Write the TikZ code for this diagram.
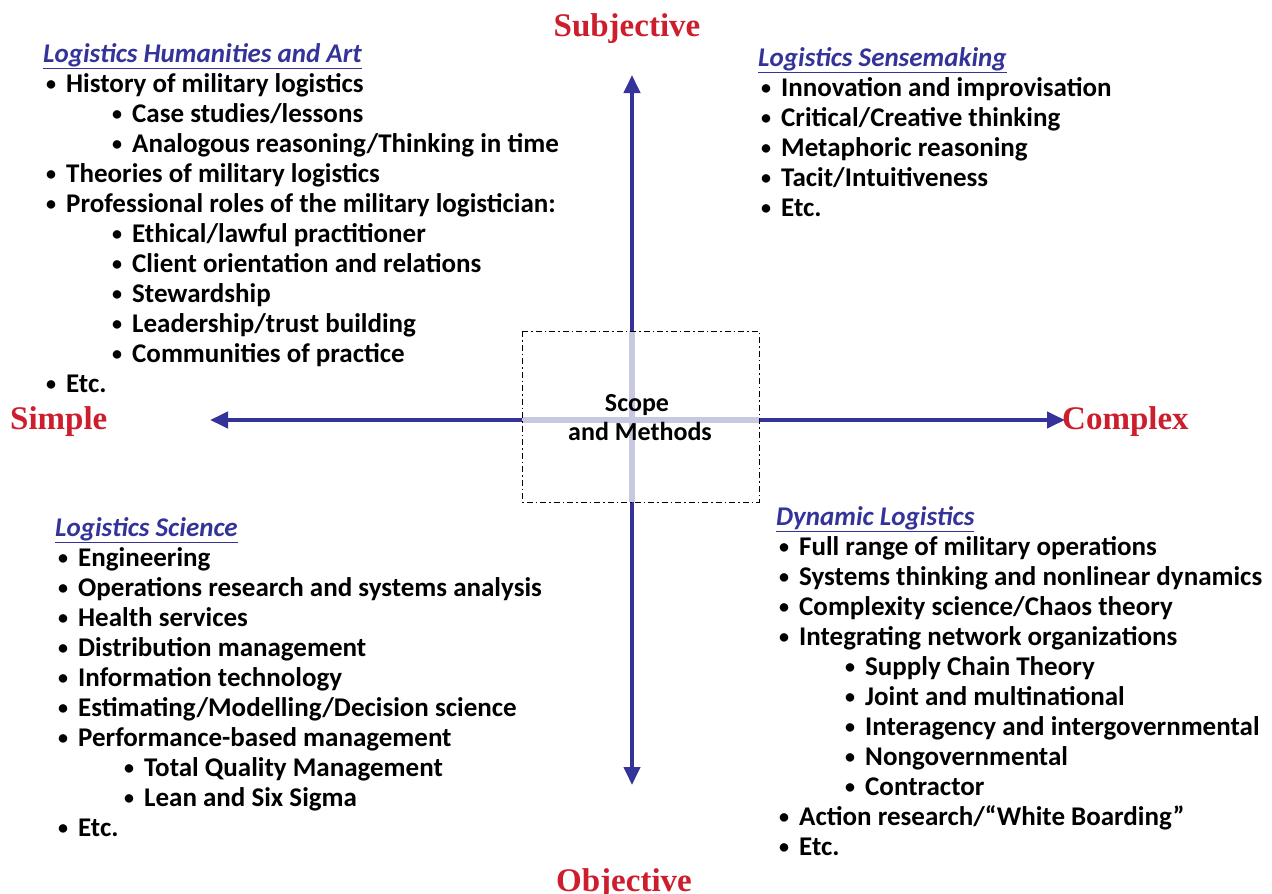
\documentclass[tikz,border=0pt]{standalone}
\usepackage{fontspec}
\setmainfont{Carlito}
\newfontfamily\redfont{Liberation Serif}
\usetikzlibrary{arrows.meta}
\definecolor{axisblue}{RGB}{51,51,153}
\definecolor{lightaxis}{RGB}{200,200,226}
\definecolor{titleblue}{RGB}{51,51,153}
\definecolor{labelred}{RGB}{204,30,45}
\newcommand\itm[4]{\node[item] (#1) at (#2,#3) {\llap{\raisebox{2pt}{\fontsize{20}{20}\selectfont\textbullet}\hspace{10pt}}#4};}
\newcommand\ttl[4]{\node[qtitle] (#1) at (#2,#3) {\underline{#4}};}
\begin{document}
\begin{tikzpicture}[x=1pt,y=-1pt,
  item/.style={anchor=base west,inner sep=0pt,font=\bfseries\fontsize{27}{29}\selectfont},
  qtitle/.style={anchor=base west,inner sep=0pt,text=titleblue,font=\bfseries\itshape\fontsize{27}{29}\selectfont},
  axislabel/.style={inner sep=0pt,text=labelred,font=\redfont\bfseries\fontsize{33}{36}\selectfont},
  axis/.style={line width=4pt,draw=axisblue,-{Triangle[width=16pt,length=18pt]}},
  inner/.style={line width=6pt,draw=lightaxis},
  scopebox/.style={draw=black,line width=0.9pt,dash pattern=on 6pt off 3pt on 1.5pt off 3pt}]
\useasboundingbox (0,0) rectangle (1272,894);
% axes
\coordinate (c) at (632,420);
\coordinate (top) at (632,75);
\coordinate (bot) at (632,785);
\coordinate (lft) at (210,420);
\coordinate (rgt) at (1065,420);
\draw[axis] (c) -- (top);
\draw[axis] (c) -- (bot);
\draw[axis] (c) -- (lft);
\draw[axis] (c) -- (rgt);
\coordinate (boxnw) at (522,331);
\coordinate (boxse) at (759,502);
\draw[inner] (632,331) -- (632,502);
\draw[inner] (522,420) -- (759,420);
\draw[scopebox] (boxnw) rectangle (boxse);
\node[inner sep=0pt,font=\bfseries\fontsize{26}{28}\selectfont,anchor=base] (scope) at (637,411) {Scope};
\node[inner sep=0pt,font=\bfseries\fontsize{26}{28}\selectfont,anchor=base] (methods) at (640,440) {and Methods};
% axis labels
\node[axislabel,anchor=base] (subj) at (627,36) {Subjective};
\node[axislabel,anchor=base] (obj) at (624,891) {Objective};
\node[axislabel,anchor=base west] (simple) at (10,429) {Simple};
\node[axislabel,anchor=base west] (complex) at (1062,429) {Complex};
% top left
\ttl{tlt}{43}{62}{Logistics Humanities and Art}
\itm{tl1}{66}{92}{History of military logistics}
\itm{tl2}{132}{122}{Case studies/lessons}
\itm{tl3}{132}{152}{Analogous reasoning/Thinking in time}
\itm{tl4}{66}{182}{Theories of military logistics}
\itm{tl5}{66}{212}{Professional roles of the military logistician:}
\itm{tl6}{132}{242}{Ethical/lawful practitioner}
\itm{tl7}{132}{272}{Client orientation and relations}
\itm{tl8}{132}{302}{Stewardship}
\itm{tl9}{132}{332}{Leadership/trust building}
\itm{tl10}{132}{362}{Communities of practice}
\itm{tl11}{66}{392}{Etc.}
% top right
\ttl{trt}{758}{66}{Logistics Sensemaking}
\itm{tr1}{781}{96}{Innovation and improvisation}
\itm{tr2}{781}{126}{Critical/Creative thinking}
\itm{tr3}{781}{156}{Metaphoric reasoning}
\itm{tr4}{781}{186}{Tacit/Intuitiveness}
\itm{tr5}{781}{216}{Etc.}
% bottom left
\ttl{blt}{55}{536}{Logistics Science}
\itm{bl1}{78}{566}{Engineering}
\itm{bl2}{78}{596}{Operations research and systems analysis}
\itm{bl3}{78}{626}{Health services}
\itm{bl4}{78}{656}{Distribution management}
\itm{bl5}{78}{686}{Information technology}
\itm{bl6}{78}{716}{Estimating/Modelling/Decision science}
\itm{bl7}{78}{746}{Performance-based management}
\itm{bl8}{144}{776}{Total Quality Management}
\itm{bl9}{144}{806}{Lean and Six Sigma}
\itm{bl10}{78}{836}{Etc.}
% bottom right
\ttl{brt}{776}{525}{Dynamic Logistics}
\itm{br1}{799}{555}{Full range of military operations}
\itm{br2}{799}{585}{Systems thinking and nonlinear dynamics}
\itm{br3}{799}{615}{Complexity science/Chaos theory}
\itm{br4}{799}{645}{Integrating network organizations}
\itm{br5}{865}{675}{Supply Chain Theory}
\itm{br6}{865}{705}{Joint and multinational}
\itm{br7}{865}{735}{Interagency and intergovernmental}
\itm{br8}{865}{765}{Nongovernmental}
\itm{br9}{865}{795}{Contractor}
\itm{br10}{799}{825}{Action research/“White Boarding”}
\itm{br11}{799}{855}{Etc.}
\end{tikzpicture}
\end{document}
